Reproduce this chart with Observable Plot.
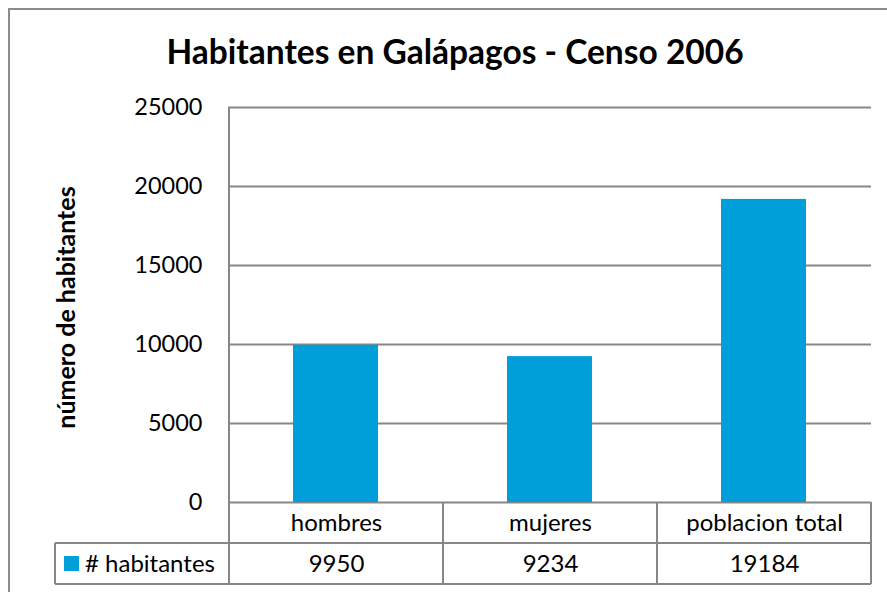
<!DOCTYPE html>
<html><head><meta charset="utf-8">
<script src="https://cdn.jsdelivr.net/npm/d3@7"></script>
<script src="https://cdn.jsdelivr.net/npm/@observablehq/plot@0.6"></script>
<style>
body{margin:0;background:#fff;}
#wrap{position:relative;width:887px;height:592px;overflow:hidden;font-family:Lato, sans-serif;}
#border{position:absolute;left:8px;top:8px;width:920px;height:620px;border:2px solid #8c8c8c;box-sizing:border-box;}
#chart{position:absolute;left:0;top:0;}
</style></head>
<body>
<div id="wrap"><div id="border"></div><div id="chart"></div></div>
<script>
const title = "Habitantes en Galápagos - Censo 2006";
const categories = ["hombres", "mujeres", "poblacion total"];
const values = [9950, 9234, 19184];
const seriesName = "# habitantes";
const yTicks = [0, 5000, 10000, 15000, 20000, 25000];
const yLabel = "número de habitantes";

const data = categories.map((c, i) => ({cat: c, value: values[i]}));
const gray = "#878787";
const FONT = "Lato, sans-serif";

const plot = Plot.plot({
  width: 887, height: 592,
  marginLeft: 228, marginRight: 16, marginTop: 107, marginBottom: 90,
  style: {fontFamily: FONT, background: "transparent", color: "#000"},
  x: {domain: categories, padding: 0, axis: null},
  y: {domain: [0, 25000], axis: null},
  marks: [
    Plot.gridY(yTicks, {stroke: gray, strokeOpacity: 1, strokeWidth: 2}),
    Plot.axisY(yTicks, {tickSize: 0, tickPadding: 26, fontSize: 23.5, label: null, tickFormat: d => String(d)}),
    Plot.barY(data, {x: "cat", y: "value", fill: "#009fda", insetLeft: 64, insetRight: 65}),
    Plot.text(data, {x: "cat", text: "cat", frameAnchor: "bottom", lineAnchor: "middle", dy: 21, fontSize: 24, fill: "#000"}),
    Plot.text(data, {x: "cat", text: d => String(d.value), frameAnchor: "bottom", lineAnchor: "middle", dy: 62, fontSize: 24, fill: "#000"})
  ]
});
document.getElementById("chart").appendChild(plot);

const sx = plot.scale("x"), sy = plot.scale("y");
const svg = d3.select(plot);
const y0 = sy.apply(0), yTop = sy.apply(25000);
const rowH = 41;
const xLeft = sx.apply(categories[0]);
const xRight = sx.apply(categories[categories.length - 1]) + sx.bandwidth;
const legendLeft = 55;
const g = svg.append("g").attr("stroke", gray).attr("stroke-width", 2);
g.append("line").attr("x1", xLeft).attr("x2", xLeft).attr("y1", yTop).attr("y2", y0 + 2 * rowH);
g.append("line").attr("x1", legendLeft).attr("x2", xRight).attr("y1", y0 + rowH).attr("y2", y0 + rowH);
g.append("line").attr("x1", legendLeft).attr("x2", xRight).attr("y1", y0 + 2 * rowH).attr("y2", y0 + 2 * rowH);
g.append("line").attr("x1", legendLeft).attr("x2", legendLeft).attr("y1", y0 + rowH).attr("y2", y0 + 2 * rowH);
categories.forEach(c => {
  const xe = sx.apply(c) + sx.bandwidth;
  g.append("line").attr("x1", xe).attr("x2", xe).attr("y1", y0).attr("y2", y0 + 2 * rowH);
});
svg.append("rect").attr("x", legendLeft + 9).attr("y", y0 + rowH * 1.5 - 7.5).attr("width", 15).attr("height", 15).attr("fill", "#009fda");
svg.append("text").attr("x", legendLeft + 30).attr("y", y0 + rowH * 1.5).attr("dy", "0.35em")
  .attr("text-anchor", "start")
  .attr("font-family", FONT).attr("font-size", 24).attr("fill", "#000").text(seriesName);
svg.append("text").attr("transform", `translate(66,${(y0 + yTop) / 2 + 3}) rotate(-90)`)
  .attr("text-anchor", "middle").attr("dy", "0.35em")
  .attr("font-family", FONT).attr("font-weight", "bold").attr("font-size", 25).attr("fill", "#000").text(yLabel);
svg.append("text").attr("x", 455).attr("y", 64).attr("text-anchor", "middle")
  .attr("font-family", FONT).attr("font-weight", "bold").attr("font-size", 33.5).attr("fill", "#000").text(title);
</script>
</body></html>
